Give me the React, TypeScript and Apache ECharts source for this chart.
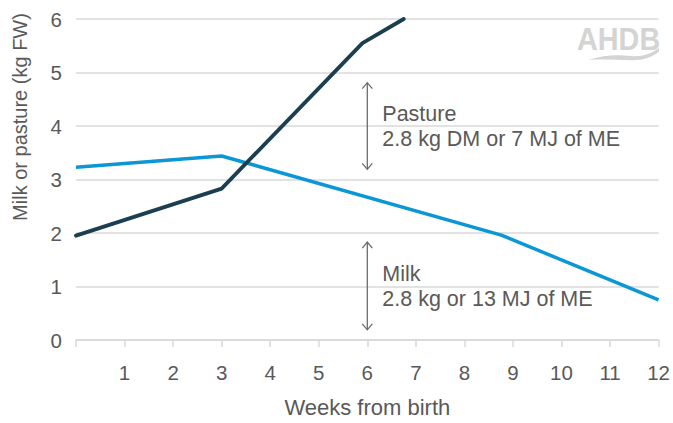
import React, { useEffect, useRef } from "react";
import * as echarts from "echarts";

// Pasture intake (kg fresh weight) by week
const pastureWeeks = [0, 3, 5.9, 6.75];
const pastureKg = [1.95, 2.83, 5.55, 6.0];

// Milk intake (kg fresh weight) by week
const milkWeeks = [0, 3, 8.76, 12];
const milkKg = [3.23, 3.44, 1.96, 0.75];

// Double-headed arrows with their notes
const noteWeek = [6, 6];
const noteFrom = [3.19, 0.19];
const noteTo = [4.81, 1.83];
const noteTitle = ["Pasture", "Milk"];
const noteDetail = ["2.8 kg DM or 7 MJ of ME", "2.8 kg or 13 MJ of ME"];

const FONT = "'Liberation Sans', Arial, Helvetica, sans-serif";
const TEXT = "#595959";
const GRID = "#d9d9d9";

echarts.graphic.registerShape(
  "ahdbSwoosh",
  echarts.graphic.extendPath(
    "M0,13 C14,8 28,7.5 42,9 C53,10 62,7 70,1 L70,4.5 C62,11 53,13.5 42,13.2 C28,12.8 14,12 0,13 Z",
    {}
  )
);

export default function App() {
  const ref = useRef<HTMLDivElement>(null);

  useEffect(() => {
    if (!ref.current) return;
    const chart = echarts.init(ref.current, undefined, { renderer: "svg" });

    const pairs = (xs: number[], ys: number[]) => xs.map((x, i) => [x, ys[i]]);
    const notes = noteWeek.map((w, i) => [w, noteFrom[i], noteTo[i], i]);

    chart.setOption({
      animation: false,
      backgroundColor: "#ffffff",
      textStyle: { fontFamily: FONT },
      grid: { left: 76, right: 12, top: 19, bottom: 79 },
      xAxis: {
        type: "value",
        min: 0,
        max: 12,
        interval: 1,
        name: "Weeks from birth",
        nameLocation: "middle",
        nameGap: 56,
        nameTextStyle: { color: TEXT, fontSize: 22, fontFamily: FONT },
        axisLine: { show: true, lineStyle: { color: GRID, width: 1.5 } },
        axisTick: { show: true, length: 7, lineStyle: { color: GRID, width: 1.5 } },
        splitLine: { show: false },
        axisLabel: {
          color: TEXT,
          fontSize: 20.5,
          fontFamily: FONT,
          margin: 22,
          formatter: (v: number) => (v === 0 ? "" : String(v)),
        },
      },
      yAxis: {
        type: "value",
        min: 0,
        max: 6,
        interval: 1,
        axisLine: { show: false },
        axisTick: { show: false },
        splitLine: { show: true, lineStyle: { color: GRID, width: 1.5 } },
        axisLabel: { color: TEXT, fontSize: 20.5, fontFamily: FONT, margin: 14 },
      },
      graphic: [
        {
          type: "text",
          x: 20,
          y: 117,
          rotation: Math.PI / 2,
          style: {
            text: "Milk or pasture (kg FW)",
            fill: TEXT,
            fontSize: 20,
            fontFamily: FONT,
            align: "center",
            verticalAlign: "middle",
          },
        },
        {
          type: "text",
          x: 577,
          y: 24,
          scaleX: 0.93,
          style: {
            text: "AHDB",
            fill: "#d4d4d4",
            fontSize: 31,
            fontWeight: "bold",
            fontFamily: FONT,
            align: "left",
            verticalAlign: "top",
          },
        },
        {
          type: "ahdbSwoosh",
          x: 589,
          y: 47,
          style: { fill: "#d4d4d4" },
        },
      ],
      series: [
        {
          name: "Milk",
          type: "line",
          data: pairs(milkWeeks, milkKg),
          symbol: "none",
          lineStyle: { color: "#0b96d6", width: 3.5 },
          z: 2,
        },
        {
          name: "Pasture",
          type: "line",
          data: pairs(pastureWeeks, pastureKg),
          symbol: "none",
          lineStyle: { color: "#1b3e50", width: 3.8, cap: "round" },
          z: 3,
        },
        {
          type: "custom",
          coordinateSystem: "cartesian2d",
          data: notes,
          encode: { x: 0, y: [1, 2] },
          z: 4,
          renderItem: (params: any, api: any) => {
            const i = api.value(3);
            const top = api.coord([api.value(0), api.value(2)]);
            const bot = api.coord([api.value(0), api.value(1)]);
            const x = top[0];
            const mid = (top[1] + bot[1]) / 2;
            const stroke = { stroke: "#6b6b6b", lineWidth: 1.3, fill: "none" };
            const textStyle = {
              fill: TEXT,
              fontSize: 21.5,
              fontFamily: FONT,
              align: "left",
              verticalAlign: "middle",
            };
            return {
              type: "group",
              children: [
                {
                  type: "line",
                  shape: { x1: x, y1: top[1], x2: x, y2: bot[1] },
                  style: stroke,
                },
                {
                  type: "polyline",
                  shape: { points: [[x - 5, top[1] + 6], [x, top[1]], [x + 5, top[1] + 6]] },
                  style: stroke,
                },
                {
                  type: "polyline",
                  shape: { points: [[x - 5, bot[1] - 6], [x, bot[1]], [x + 5, bot[1] - 6]] },
                  style: stroke,
                },
                {
                  type: "text",
                  x: x + 15,
                  y: mid - 12,
                  style: { ...textStyle, text: noteTitle[i] },
                },
                {
                  type: "text",
                  x: x + 15,
                  y: mid + 13,
                  style: { ...textStyle, text: noteDetail[i] },
                },
              ],
            };
          },
        },
      ],
    });

    return () => chart.dispose();
  }, []);

  return (
    <div
      ref={ref}
      style={{ position: "fixed", left: 0, top: 0, width: 673, height: 423 }}
    />
  );
}
